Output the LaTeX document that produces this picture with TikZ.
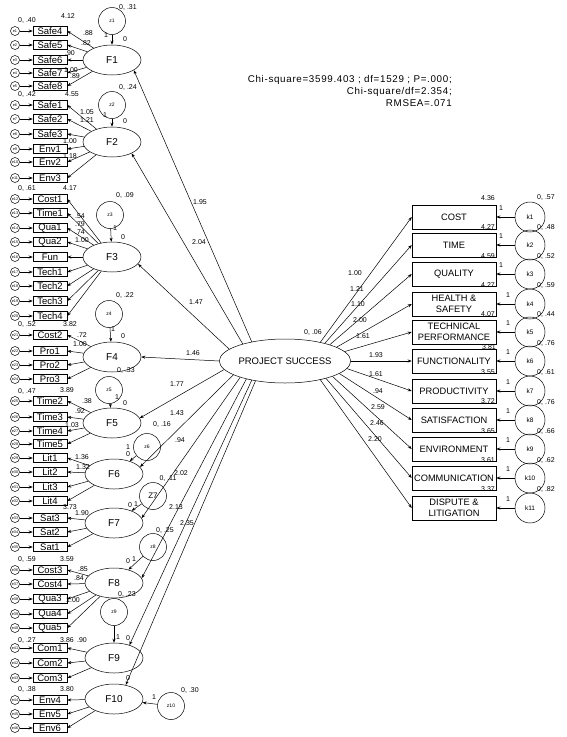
\documentclass[tikz,border=0pt]{standalone}
\usepackage{fontspec}
\setmainfont{Liberation Sans}
\usetikzlibrary{shapes.geometric,arrows.meta}
\begin{document}
\begin{tikzpicture}[x=1pt,y=-1pt,
 ind/.style={draw, rectangle, minimum width=34pt, minimum height=9pt, inner sep=0pt, font=\fontsize{9.5}{9.5}\selectfont},
 err/.style={draw, circle, minimum size=9pt, inner sep=0pt, font=\fontsize{3.8}{3.8}\selectfont},
 fac/.style={draw, ellipse, minimum width=58pt, minimum height=30pt, inner sep=0pt, font=\fontsize{10}{10}\selectfont},
 dist/.style={draw, circle, minimum size=27pt, inner sep=0pt, font=\fontsize{5}{5}\selectfont},
 outc/.style={draw, rectangle, minimum width=84pt, minimum height=24pt, inner sep=0pt, align=center, font=\fontsize{9.3}{10.5}\selectfont},
 kc/.style={draw, circle, minimum size=30pt, inner sep=0pt, font=\fontsize{6.5}{6.5}\selectfont},
 num/.style={font=\fontsize{7}{7}\selectfont, inner sep=0pt},
 arr/.style={-{Stealth[length=4pt,width=3pt]}, line width=0.5pt},
 line width=0.5pt]
\useasboundingbox (0,0) rectangle (567,737);

% factors
\foreach \f/\x/\y in {F1/112/60, F2/112/142, F3/112/257, F4/112/357, F5/112/423, F6/114/474, F7/114/523, F8/114/583, F9/114/658, F10/114/699}
  \node[fac] (\f) at (\x,\y) {\f};

% indicators and errors
\foreach \n/\y/\e in {Safe4/31/1, Safe5/45/2, Safe6/60/3, Safe7/73/4, Safe8/86/5,
 Safe1/105/6, Safe2/119/7, Safe3/134/8, Env1/149/9, Env2/162/10, Env3/178/11,
 Cost1/199/12, Time1/213/13, Qua1/228/14, Qua2/242/15, Fun/257/16, Tech1/272/17, Tech2/286/18, Tech3/301/19, Tech4/316/20,
 Cost2/335/21, Pro1/351/22, Pro2/365/23, Pro3/379/24,
 Time2/401/25, Time3/417/26, Time4/431/27, Time5/444/28,
 Lit1/458/29, Lit2/472/30, Lit3/487/31, Lit4/501/32,
 Sat3/518/33, Sat2/532/34, Sat1/547/35,
 Cost3/570/36, Cost4/584/37, Qua3/599/38, Qua4/614/39, Qua5/628/40,
 Com1/648/41, Com2/663/42, Com3/678/43,
 Env4/700/44, Env5/714/45, Env6/728/46}
{
  \node[ind] (\n) at (50,\y) {\n};
  \node[err] (e\e) at (15,\y) {e\e};
  \draw[arr] (e\e) -- (\n);
}

\foreach \f/\lst in {F1/{Safe4,Safe5,Safe6,Safe7,Safe8},
 F2/{Safe1,Safe2,Safe3,Env1,Env2,Env3},
 F3/{Cost1,Time1,Qua1,Qua2,Fun,Tech1,Tech2,Tech3,Tech4},
 F4/{Cost2,Pro1,Pro2,Pro3},
 F5/{Time2,Time3,Time4,Time5},
 F6/{Lit1,Lit2,Lit3,Lit4},
 F7/{Sat3,Sat2,Sat1},
 F8/{Cost3,Cost4,Qua3,Qua4,Qua5},
 F9/{Com1,Com2,Com3},
 F10/{Env4,Env5,Env6}}
{
  \foreach \n in \lst { \draw[arr] (\f) -- (\n.east); }
}

% disturbances
\foreach \z/\x/\y/\f in {z1/112/21/F1, z2/112/105/F2, z3/110/215/F3, z4/109/314/F4, z5/109/390/F5, z6/147/447/F6, z8/153/547/F8, z9/114/612/F9, z10/171/706/F10}
{
  \node[dist] (\z) at (\x,\y) {\z};
  \draw[arr] (\z) -- (\f);
}
\node[dist, font=\fontsize{8}{8}\selectfont] (z7) at (153,496) {Z7};
\draw[arr] (z7) -- (F7);

% project success
\node[draw, ellipse, minimum width=106pt, minimum height=44pt, inner sep=0pt, font=\fontsize{9.5}{9.5}\selectfont] (PS) at (285,361) {PROJECT SUCCESS};

\draw[arr] (PS.150) -- (F1.-25);
\draw[arr] (PS.158) -- (F2.-30);
\draw[arr] (PS.168) -- (F3.-15);
\draw[arr] (PS.180) -- (F4.east);
\draw[arr] (PS.188) -- (F5.10);
\draw[arr] (PS.195) -- (F6.15);
\draw[arr] (PS.200) -- (F7.10);
\draw[arr] (PS.205) -- (F8.10);
\draw[arr] (PS.210) -- (F9.40);
\draw[arr] (PS.214) -- (F10.50);

% outcomes
\foreach \b/\y/\t/\a in {b1/217/{COST}/28, b2/245/{TIME}/24, b3/274/{QUALITY}/20, b4/304/{HEALTH \&\\SAFETY}/15,
 b5/332/{TECHNICAL\\PERFORMANCE}/9, b6/361/{FUNCTIONALITY}/0, b7/391/{PRODUCTIVITY}/-7, b8/420/{SATISFACTION}/-13,
 b9/449/{ENVIRONMENT}/-18, b10/478/{COMMUNICATION}/-23, b11/508/{DISPUTE \&\\LITIGATION}/-28}
{
  \node[outc] (\b) at (454,\y) {\t};
  \draw[arr] (PS.\a) -- (\b.west);
}
\foreach \k/\y/\b in {k1/217/b1, k2/245/b2, k3/274/b3, k4/304/b4, k5/332/b5, k6/361/b6, k7/391/b7, k8/420/b8, k9/449/b9, k10/478/b10, k11/508/b11}
{
  \node[kc] (\k) at (530,\y) {\k};
  \draw[arr] (\k) -- (\b.east);
}

% fit statistics
\node[anchor=east, align=right, inner sep=0pt, font=\fontsize{9.8}{12}\selectfont\addfontfeature{LetterSpace=7}] (fit) at (452,91)
 {Chi-square=3599.403 ; df=1529 ; P=.000;\\Chi-square/df=2.354;\\RMSEA=.071};

% numbers
\foreach \x/\y/\t [count=\i] in {
 200/202/{1.95}, 199/242/{2.04}, 196/302/{1.47}, 193/353/{1.46}, 177/384/{1.77}, 177/413/{1.43}, 180/440/{.94}, 181/473/{2.02}, 176/507/{2.13}, 187/523/{2.35},
 355/273/{1.00}, 357/289/{1.21}, 358/304/{1.10}, 360/320/{2.00}, 363/336/{1.61}, 376/355/{1.93}, 376/374/{1.61}, 378/391/{.94}, 378/407/{2.59}, 377/423/{2.46}, 375/439/{2.20},
 313/332/{0, .06},
 488/198/{4.36}, 488/227/{4.27}, 488/256/{4.59}, 488/285/{4.27}, 488/314/{4.07}, 489/347/{3.81}, 488/372/{3.55}, 488/401/{3.72}, 488/431/{3.65}, 488/460/{3.61}, 488/489/{3.37},
 546/197/{0, .57}, 546/227/{0, .48}, 546/256/{0, .52}, 546/285/{0, .59}, 546/314/{0, .44}, 546/343/{0, .76}, 546/372/{0, .61}, 546/402/{0, .76}, 546/431/{0, .66}, 546/460/{0, .62}, 546/489/{0, .82},
 501/208/{1}, 501/236/{1}, 501/265/{1}, 508/295/{1}, 508/323/{1}, 508/352/{1}, 508/382/{1}, 508/411/{1}, 508/440/{1}, 508/469/{1}, 508/499/{1},
 128/8/{0, .31}, 128/87/{0, .24}, 125/195/{0, .09}, 125/295/{0, .22}, 126/370/{0, .33}, 162/424/{0, .16}, 168/478/{0, .11}, 165/530/{0, .25}, 127/594/{0, .23}, 190/690/{0, .30},
 106/35/{1}, 125/39/{0}, 105/115/{1}, 125/121/{0}, 115/228/{1}, 123/237/{0}, 113/329/{1}, 123/336/{0}, 117/397/{1}, 125/403/{0},
 128/447/{1}, 128/454/{0}, 130/505/{0}, 136/504/{1}, 128/561/{0}, 134/559/{1}, 118/637/{1}, 128/638/{0}, 128/678/{0}, 154/697/{1},
 27/21/{0, .40}, 68/16/{4.12}, 88/33/{.88}, 86/43/{.82}, 70/53/{.90}, 71/70/{1.00}, 75/76/{.89}, 72/94/{4.55}, 27/95/{0, .42},
 87/112/{1.05}, 87/120/{1.21}, 70/141/{1.00}, 70/156/{1.18}, 27/188/{0, .61}, 70/188/{4.17},
 80/216/{.54}, 80/224/{.79}, 80/232/{.74}, 82/240/{1.00},
 27/324/{0, .52}, 70/324/{3.82}, 82/335/{.72}, 80/344/{1.00},
 27/391/{0, .47}, 67/390/{3.89}, 87/401/{.38}, 80/411/{.92}, 72/425/{1.03},
 82/457/{1.36}, 83/467/{1.32}, 70/507/{3.73}, 82/513/{1.90},
 27/559/{0, .59}, 67/559/{3.59}, 83/569/{.85}, 79/578/{.84}, 73/600/{1.00},
 27/640/{0, .27}, 67/640/{3.86}, 82/640/{.90},
 27/689/{0, .38}, 67/689/{3.80}}
 \node[num] (n\i) at (\x,\y) {\t};
\end{tikzpicture}
\end{document}
